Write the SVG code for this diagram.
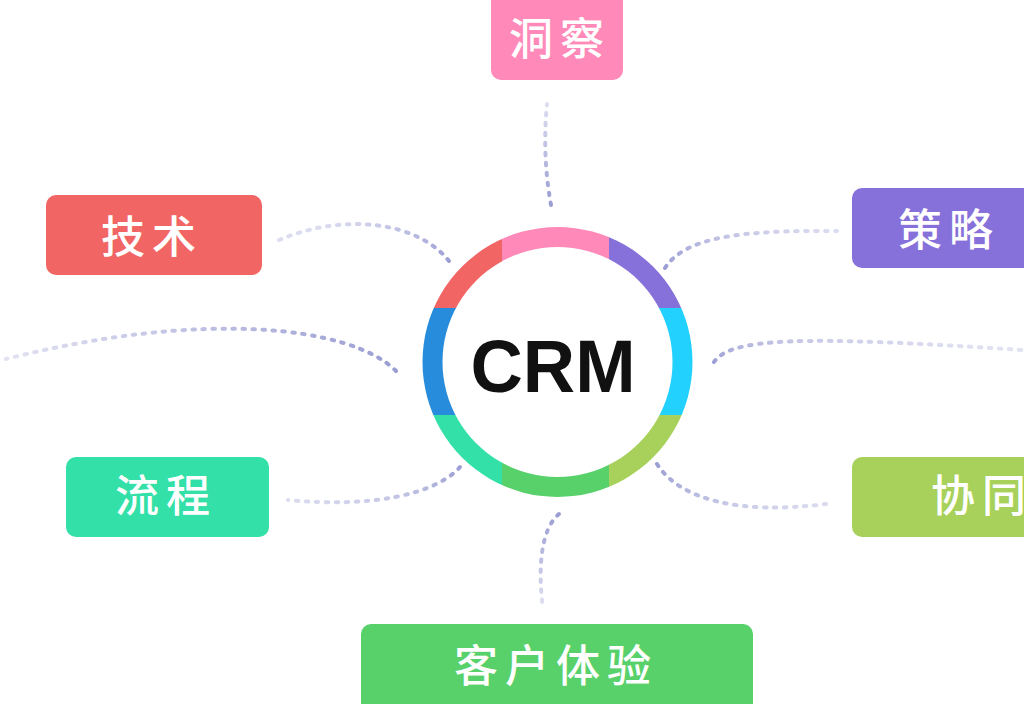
<svg xmlns="http://www.w3.org/2000/svg" width="1024" height="704" viewBox="0 0 1024 704">
<style>
.lbl{fill:#fff;font-family:"Noto Sans CJK SC","Noto Sans",sans-serif;font-size:44px;font-weight:500;letter-spacing:7px}
.con{fill:none;stroke-width:4;stroke-linecap:round;stroke-dasharray:2.5 7.5}
.crm{fill:#111;font-family:"Liberation Sans",Arial,sans-serif;font-weight:bold;font-size:74px}
</style>
<defs>
<clipPath id="ring"><path clip-rule="evenodd" d="M557.5,227a135,135 0 1,0 0.01,0zM557.5,247a115,115 0 1,1 -0.01,0z"/></clipPath>
<linearGradient id="gTop" x1="0" y1="1" x2="0" y2="0"><stop offset="0" stop-color="#9b9ed3"/><stop offset="1" stop-color="#9b9ed3" stop-opacity="0.35"/></linearGradient>
<linearGradient id="gTL" x1="1" y1="1" x2="0" y2="0.5"><stop offset="0" stop-color="#9b9ed3"/><stop offset="1" stop-color="#9b9ed3" stop-opacity="0.35"/></linearGradient>
<linearGradient id="gL" x1="1" y1="1" x2="0" y2="1"><stop offset="0" stop-color="#9b9ed3"/><stop offset="1" stop-color="#9b9ed3" stop-opacity="0.3"/></linearGradient>
<linearGradient id="gTR" x1="0" y1="1" x2="1" y2="0"><stop offset="0" stop-color="#9b9ed3"/><stop offset="1" stop-color="#9b9ed3" stop-opacity="0.35"/></linearGradient>
<linearGradient id="gR" x1="0" y1="1" x2="1" y2="0.5"><stop offset="0" stop-color="#9b9ed3"/><stop offset="1" stop-color="#9b9ed3" stop-opacity="0.3"/></linearGradient>
<linearGradient id="gBR" x1="0" y1="0" x2="1" y2="1"><stop offset="0" stop-color="#9b9ed3"/><stop offset="1" stop-color="#9b9ed3" stop-opacity="0.35"/></linearGradient>
<linearGradient id="gBL" x1="1" y1="0" x2="0" y2="1"><stop offset="0" stop-color="#9b9ed3"/><stop offset="1" stop-color="#9b9ed3" stop-opacity="0.35"/></linearGradient>
<linearGradient id="gB" x1="0" y1="0" x2="0" y2="1"><stop offset="0" stop-color="#9b9ed3"/><stop offset="1" stop-color="#9b9ed3" stop-opacity="0.3"/></linearGradient>
</defs>
<rect width="1024" height="704" fill="#fff"/>
<g id="connectors">
<path class="con" stroke="url(#gTop)" d="M551,205 Q542,155 547,104"/>
<path class="con" stroke="url(#gTL)" d="M449,261 C418,222 345,212 279,240"/>
<path class="con" stroke="url(#gL)" d="M396,371 C350,325 200,310 6,359"/>
<path class="con" stroke="url(#gTR)" d="M665,268 C685,237 740,230 837,231"/>
<path class="con" stroke="url(#gR)" d="M714,362 C730,338 800,335 1022,350"/>
<path class="con" stroke="url(#gBR)" d="M657,464 C680,500 740,515 826,504"/>
<path class="con" stroke="url(#gBL)" d="M460,467 C435,495 370,508 288,500"/>
<path class="con" stroke="url(#gB)" d="M559,514 C540,530 538,570 543,609"/>
</g>
<g id="crm">
<g clip-path="url(#ring)">
<rect x="502" y="200" width="107" height="162" fill="#ff89b8"/>
<rect x="609" y="200" width="111" height="108" fill="#8670d9"/>
<rect x="557.5" y="308" width="163" height="107" fill="#23d1ff"/>
<rect x="609" y="415" width="111" height="105" fill="#a7d15a"/>
<rect x="502" y="362" width="107" height="158" fill="#58d16b"/>
<rect x="400" y="415" width="102" height="105" fill="#33e0a8"/>
<rect x="400" y="308" width="157.5" height="107" fill="#268cdb"/>
<rect x="400" y="200" width="102" height="108" fill="#f26565"/>
</g>
<text class="crm" x="553" y="392" text-anchor="middle" textLength="165" lengthAdjust="spacingAndGlyphs">CRM</text>
</g>
<g id="n-dongcha">
<rect x="491" y="-10" width="132" height="90" rx="10" fill="#ff89b8"/>
<text class="lbl" x="509" y="55">洞察</text>
</g>
<g id="n-jishu">
<rect x="46" y="195" width="216" height="80" rx="10" fill="#f26565"/>
<text class="lbl" x="101" y="253">技术</text>
</g>
<g id="n-celue">
<rect x="852" y="188" width="216" height="80" rx="10" fill="#8670d9"/>
<text class="lbl" x="898" y="246">策略</text>
</g>
<g id="n-liucheng">
<rect x="66" y="457" width="203" height="80" rx="10" fill="#33e0a8"/>
<text class="lbl" x="115" y="512">流程</text>
</g>
<g id="n-xietong">
<rect x="852" y="457" width="216" height="80" rx="10" fill="#a7d15a"/>
<text class="lbl" x="931" y="512">协同</text>
</g>
<g id="n-kehu">
<rect x="361" y="624" width="392" height="90" rx="10" fill="#58d16b"/>
<text class="lbl" x="454" y="682">客户体验</text>
</g>
</svg>
